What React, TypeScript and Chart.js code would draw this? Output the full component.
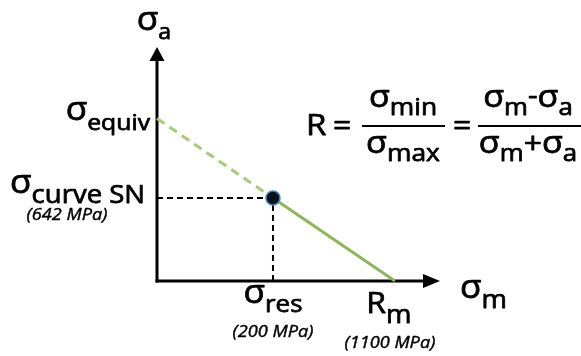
import React, { useEffect, useRef } from "react";
import { Chart, registerables } from "chart.js";

Chart.register(...registerables);

// Schematic Haigh / Goodman diagram, arbitrary units on both axes
const axisX = [0, 100]; // σm axis extent
const axisY = [0, 100]; // σa axis extent
// Goodman line: σequiv intercept, working point (σres, σcurve SN), Rm intercept
const lineX = [0, 42.8, 87.8];
const lineY = [73.2, 37.4, 0];
const stressValues = ["(642 MPa)", "(200 MPa)", "(1100 MPa)"];

const FF = '"Open Sans", "DejaVu Sans", sans-serif';
const SX = 1.1; // horizontal text stretch

function setFont(ctx: CanvasRenderingContext2D, size: number, style = "") {
  ctx.font = `${style} ${size}px ${FF}`;
}
function textW(ctx: CanvasRenderingContext2D, s: string, size: number, style = "") {
  setFont(ctx, size, style);
  return ctx.measureText(s).width * SX;
}
function put(ctx: CanvasRenderingContext2D, s: string, x: number, y: number, size: number, style = "") {
  setFont(ctx, size, style);
  ctx.save();
  ctx.translate(x, y);
  ctx.scale(SX, 1);
  ctx.textBaseline = "alphabetic";
  ctx.textAlign = "left";
  ctx.fillText(s, 0, 0);
  ctx.lineWidth = style ? 0.4 : 0.75;
  ctx.lineJoin = "round";
  ctx.strokeText(s, 0, 0);
  ctx.restore();
  return ctx.measureText(s).width * SX;
}

type Piece = { t: string; size: number; dy: number; style?: string };
function runW(ctx: CanvasRenderingContext2D, pieces: Piece[]) {
  return pieces.reduce((a, p) => a + textW(ctx, p.t, p.size, p.style), 0);
}
function run(ctx: CanvasRenderingContext2D, pieces: Piece[], x: number, y: number, align: "left" | "center" | "right") {
  const w = runW(ctx, pieces);
  let cx = align === "left" ? x : align === "center" ? x - w / 2 : x - w;
  for (const p of pieces) {
    cx += put(ctx, p.t, cx, y + p.dy, p.size, p.style);
  }
  return w;
}
const sig = (sub: string, main: number, subSize: number, dy: number): Piece[] => [
  { t: "σ", size: main, dy: 0 },
  { t: sub, size: subSize, dy },
];

const annotations = {
  id: "annotations",
  afterDatasetsDraw(chart: any) {
    const ctx: CanvasRenderingContext2D = chart.ctx;
    const xs = chart.scales.x;
    const ys = chart.scales.y;
    const px = (v: number) => xs.getPixelForValue(v);
    const py = (v: number) => ys.getPixelForValue(v);
    ctx.save();
    ctx.fillStyle = "#000";
    ctx.strokeStyle = "#000";

    // arrow heads
    const xEnd = px(axisX[1]);
    const y0 = py(0);
    ctx.beginPath();
    ctx.moveTo(xEnd + 12, y0);
    ctx.lineTo(xEnd - 5, y0 - 7);
    ctx.lineTo(xEnd - 5, y0 + 7);
    ctx.closePath();
    ctx.fill();
    const x0 = px(0);
    const yEnd = py(axisY[1]);
    ctx.beginPath();
    ctx.moveTo(x0, yEnd - 12);
    ctx.lineTo(x0 - 7.5, yEnd + 2);
    ctx.lineTo(x0 + 7.5, yEnd + 2);
    ctx.closePath();
    ctx.fill();

    // axis titles
    run(ctx, sig("a", 32, 21, 9), x0 - 3, yEnd - 29, "center");
    run(ctx, sig("m", 32, 25, 10), xEnd + 32, y0 + 17, "left");

    // σequiv
    run(ctx, sig("equiv", 32, 22.5, 10), x0 - 7, py(lineY[0]) + 2, "right");
    // σcurve SN
    run(ctx, sig("curve SN", 32, 25, 10), x0 - 12, py(lineY[1]) - 5, "right");
    run(ctx, [{ t: stressValues[0], size: 16.5, dy: 0, style: "italic" }], x0 - 90, py(lineY[1]) + 22, "center");
    // σres
    const xr = px(lineX[1]);
    run(ctx, sig("res", 32, 23.5, 9), xr, y0 + 22, "center");
    run(ctx, [{ t: stressValues[1], size: 16.5, dy: 0, style: "italic" }], xr, y0 + 56, "center");
    // Rm
    const xm = px(lineX[2]);
    run(ctx, [{ t: "R", size: 29, dy: 0 }, { t: "m", size: 25, dy: 10 }], xm - 6, y0 + 32, "center");
    run(ctx, [{ t: stressValues[2], size: 16.5, dy: 0, style: "italic" }], xm - 5, y0 + 67, "center");

    // formula R = σmin/σmax = (σm-σa)/(σm+σa)
    const fy = 126;
    put(ctx, "R", 306, 135, 30);
    put(ctx, "=", 333, 135, 29);
    ctx.lineWidth = 2;
    ctx.beginPath();
    ctx.moveTo(362, fy);
    ctx.lineTo(445, fy);
    ctx.moveTo(478, fy);
    ctx.lineTo(581, fy);
    ctx.stroke();
    run(ctx, sig("min", 31, 24, 8), 403, 107, "center");
    run(ctx, sig("max", 31, 24, 8), 403, 153, "center");
    put(ctx, "=", 453, 135, 29);
    run(ctx, [
      { t: "σ", size: 31, dy: 0 }, { t: "m", size: 23.5, dy: 8 }, { t: "-", size: 27, dy: -3 },
      { t: "σ", size: 31, dy: 0 }, { t: "a", size: 23.5, dy: 8 },
    ], 528, 107, "center");
    run(ctx, [
      { t: "σ", size: 31, dy: 0 }, { t: "m", size: 23.5, dy: 8 }, { t: "+", size: 29, dy: 0 },
      { t: "σ", size: 31, dy: 0 }, { t: "a", size: 23.5, dy: 8 },
    ], 528, 153, "center");

    ctx.restore();
  },
};

export default function App() {
  const ref = useRef<HTMLCanvasElement | null>(null);
  useEffect(() => {
    document.body.style.margin = "0";
    const canvas = ref.current;
    if (!canvas) return;
    const line = (data: { x: number; y: number }[], color: string, width: number, dash: number[], order: number, cap = "butt") => ({
      type: "scatter" as const,
      data,
      showLine: true,
      borderColor: color,
      backgroundColor: color,
      borderWidth: width,
      borderDash: dash,
      borderCapStyle: cap,
      pointRadius: 0,
      pointHoverRadius: 0,
      fill: false,
      tension: 0,
      clip: false as any,
      order,
    });
    const chart = new Chart(canvas, {
      type: "scatter",
      data: {
        datasets: [
          line([{ x: axisX[0], y: 0 }, { x: axisX[1], y: 0 }], "#000000", 3, [], 6, "square"),
          line([{ x: 0, y: axisY[0] }, { x: 0, y: axisY[1] }], "#000000", 3, [], 6, "square"),
          line([{ x: 0, y: lineY[1] }, { x: lineX[1], y: lineY[1] }], "#000000", 2, [6, 4], 5),
          line([{ x: lineX[1], y: 0 }, { x: lineX[1], y: lineY[1] }], "#000000", 2, [6, 4], 5),
          line([{ x: lineX[0], y: lineY[0] }, { x: lineX[1], y: lineY[1] }], "#a9c97c", 3, [9, 6], 2),
          line([{ x: lineX[1], y: lineY[1] }, { x: lineX[2], y: lineY[2] }], "#8db65a", 3, [], 2),
          {
            type: "scatter" as const,
            data: [{ x: lineX[1], y: lineY[1] }],
            pointRadius: 7,
            pointBackgroundColor: "#07111c",
            pointBorderColor: "#3f86c4",
            pointBorderWidth: 1.5,
            clip: false as any,
            order: 0,
          },
        ] as any,
      },
      options: {
        animation: false,
        responsive: false,
        events: [],
        layout: { padding: { left: 157, right: 153, top: 59, bottom: 75 } },
        plugins: { legend: { display: false }, tooltip: { enabled: false } },
        scales: {
          x: { type: "linear", min: axisX[0], max: axisX[1], display: false },
          y: { type: "linear", min: axisY[0], max: axisY[1], display: false },
        },
      },
      plugins: [annotations],
    });
    return () => chart.destroy();
  }, []);
  return (
    <div style={{ width: 581, height: 356, background: "#fff" }}>
      <canvas ref={ref} width={581} height={356} style={{ display: "block" }} />
    </div>
  );
}
